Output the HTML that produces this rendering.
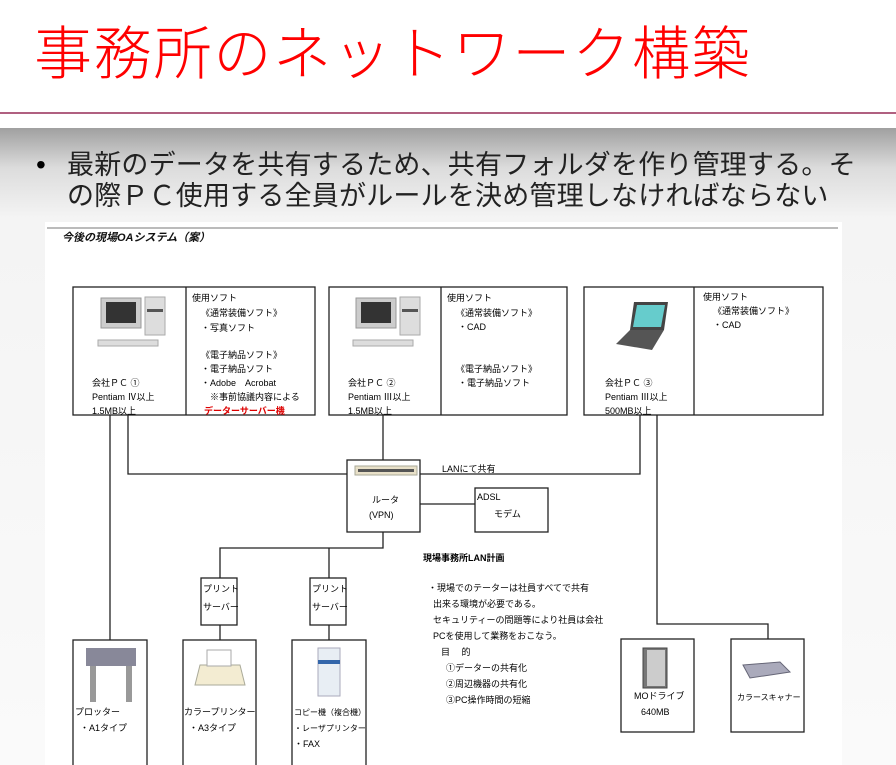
<!DOCTYPE html>
<html><head><meta charset="utf-8"><style>
html,body{margin:0;padding:0}
body{width:896px;height:765px;position:relative;overflow:hidden;background:#fff;font-family:"Liberation Sans","Noto Sans CJK JP",sans-serif}
.bg{position:absolute;left:0;top:128px;width:896px;height:637px;background:linear-gradient(#a0a0a0 0px,#dcdcdc 40px,#f4f4f4 90px,#fafafa 637px)}
.paper{position:absolute;left:45px;top:222px;width:797px;height:543px;background:#fff}
.t{position:absolute;white-space:nowrap;color:#000}
</style></head><body>
<div class="bg"></div>
<div class="paper"></div>
<div style="position:absolute;left:0;top:112px;width:896px;height:2px;background:#b06080"></div>
<div class="t" style="left:34px;top:22px;font-size:58px;color:#f00;letter-spacing:1.8px;line-height:66px;font-weight:300">事務所のネットワーク構築</div>
<div class="t" style="left:36px;top:150px;font-size:28px;line-height:30px">•</div>
<div class="t" style="left:67px;top:150px;font-size:27px;line-height:31px;color:#222;letter-spacing:0.2px">最新のデータを共有するため、共有フォルダを作り管理する。そ<br>の際ＰＣ使用する全員がルールを決め管理しなければならない</div>
<svg width="896" height="765" style="position:absolute;left:0;top:0" font-family="Liberation Sans, Noto Sans CJK JP, sans-serif">
<line x1="47" y1="228" x2="838" y2="228" stroke="#777" stroke-width="1"/>
<g fill="none" stroke="#222" stroke-width="1.3">
<rect x="73" y="287" width="242" height="128"/><line x1="186" y1="287" x2="186" y2="415"/>
<rect x="329" y="287" width="238" height="128"/><line x1="441" y1="287" x2="441" y2="415"/>
<rect x="584" y="287" width="239" height="128"/><line x1="694" y1="287" x2="694" y2="415"/>
<polyline points="110,415 110,640"/>
<polyline points="128,415 128,474 347,474"/>
<polyline points="383,415 383,460"/>
<polyline points="640,415 640,474 420,474"/>
<polyline points="657,415 657,624 768,624 768,639"/>
<polyline points="420,504 475,504"/>
<rect x="347" y="460" width="73" height="72"/>
<rect x="475" y="488" width="73" height="44"/>
<polyline points="383,532 383,548 220,548 220,578"/>
<polyline points="329,548 329,578"/>
<rect x="201" y="578" width="36" height="47"/><rect x="310" y="578" width="36" height="47"/>
<line x1="220" y1="625" x2="220" y2="640"/><line x1="329" y1="625" x2="329" y2="640"/>
<rect x="73" y="640" width="74" height="130"/>
<rect x="183" y="640" width="73" height="130"/>
<rect x="292" y="640" width="74" height="130"/>
<rect x="621" y="639" width="73" height="93"/>
<rect x="731" y="639" width="73" height="93"/>
</g>
<g>
<rect x="101" y="298" width="40" height="30" fill="#ccc" stroke="#999"/><rect x="106" y="302" width="30" height="21" fill="#333"/>
<rect x="145" y="297" width="20" height="38" fill="#ddd" stroke="#aaa"/><rect x="147" y="309" width="16" height="3" fill="#555"/>
<rect x="98" y="340" width="60" height="6" fill="#ddd" stroke="#aaa"/>
<rect x="356" y="298" width="40" height="30" fill="#ccc" stroke="#999"/><rect x="361" y="302" width="30" height="21" fill="#333"/>
<rect x="400" y="297" width="20" height="38" fill="#ddd" stroke="#aaa"/><rect x="402" y="309" width="16" height="3" fill="#555"/>
<rect x="353" y="340" width="60" height="6" fill="#ddd" stroke="#aaa"/>
<polygon points="634,302 668,302 664,330 630,330" fill="#444"/><polygon points="637,305 665,305 661,327 633,327" fill="#6cc"/>
<polygon points="630,330 664,330 652,350 616,344" fill="#555"/>
<rect x="355" y="466" width="62" height="9" fill="#e8e0c8" stroke="#aa9"/><rect x="358" y="469" width="56" height="3" fill="#555"/>
<rect x="86" y="648" width="50" height="18" fill="#889"/><rect x="90" y="666" width="6" height="36" fill="#999"/><rect x="126" y="666" width="6" height="36" fill="#999"/>
<polygon points="200,665 240,665 245,685 195,685" fill="#f3ecd2" stroke="#aa9"/><rect x="207" y="650" width="24" height="16" fill="#fff" stroke="#aaa"/>
<rect x="318" y="648" width="22" height="48" fill="#e8eef4" stroke="#aab"/><rect x="318" y="660" width="22" height="4" fill="#36a"/>
<rect x="643" y="648" width="24" height="40" fill="#777" stroke="#444"/><rect x="647" y="650" width="18" height="36" fill="#ccc"/>
<polygon points="743,665 780,662 790,672 750,678" fill="#aab" stroke="#667"/>
</g>
<g font-size="9" fill="#000">
<text x="192" y="301">使用ソフト</text><text x="201" y="316">《通常装備ソフト》</text><text x="201" y="331">・写真ソフト</text>
<text x="201" y="358">《電子納品ソフト》</text><text x="201" y="372">・電子納品ソフト</text><text x="201" y="386">・Adobe　Acrobat</text><text x="210" y="400">※事前協議内容による</text>
<text x="204" y="414" fill="#d00" font-weight="bold">データーサーバー機</text>
<text x="92" y="386">会社ＰＣ ①</text><text x="92" y="400">Pentiam Ⅳ以上</text><text x="92" y="414">1.5MB以上</text>
<text x="447" y="301">使用ソフト</text><text x="456" y="316">《通常装備ソフト》</text><text x="458" y="330">・CAD</text>
<text x="456" y="372">《電子納品ソフト》</text><text x="458" y="386">・電子納品ソフト</text>
<text x="348" y="386">会社ＰＣ ②</text><text x="348" y="400">Pentiam Ⅲ以上</text><text x="348" y="414">1.5MB以上</text>
<text x="703" y="300">使用ソフト</text><text x="713" y="314">《通常装備ソフト》</text><text x="713" y="328">・CAD</text>
<text x="605" y="386">会社ＰＣ ③</text><text x="605" y="400">Pentiam Ⅲ以上</text><text x="605" y="414">500MB以上</text>
<text x="442" y="472">LANにて共有</text>
<text x="372" y="503">ルータ</text><text x="369" y="518">(VPN)</text>
<text x="477" y="500">ADSL</text><text x="494" y="517">モデム</text>
<text x="423" y="561" font-weight="bold">現場事務所LAN計画</text>
<text x="428" y="591">・現場でのテーターは社員すべてで共有</text>
<text x="433" y="607">出来る環境が必要である。</text>
<text x="433" y="623">セキュリティーの問題等により社員は会社</text>
<text x="433" y="639">PCを使用して業務をおこなう。</text>
<text x="441" y="655">目　 的</text>
<text x="446" y="671">①データーの共有化</text><text x="446" y="687">②周辺機器の共有化</text><text x="446" y="703">③PC操作時間の短縮</text>
<text x="203" y="592">プリント</text><text x="203" y="610">サーバー</text>
<text x="312" y="592">プリント</text><text x="312" y="610">サーバー</text>
<text x="75" y="715">プロッター</text><text x="80" y="731">・A1タイプ</text>
<text x="184" y="715">カラープリンター</text><text x="189" y="731">・A3タイプ</text>
<text x="294" y="715" font-size="8">コピー機（複合機）</text><text x="294" y="731" font-size="8">・レーザプリンター</text><text x="294" y="747">・FAX</text>
<text x="634" y="699">MOドライブ</text><text x="641" y="715">640MB</text>
<text x="737" y="700" font-size="8">カラースキャナー</text>
</g>
<text x="62" y="241" font-size="11" font-weight="bold" font-style="italic" fill="#111" font-family="Liberation Sans, Noto Sans CJK JP, sans-serif">今後の現場OAシステム（案）</text>
</svg>
</body></html>
